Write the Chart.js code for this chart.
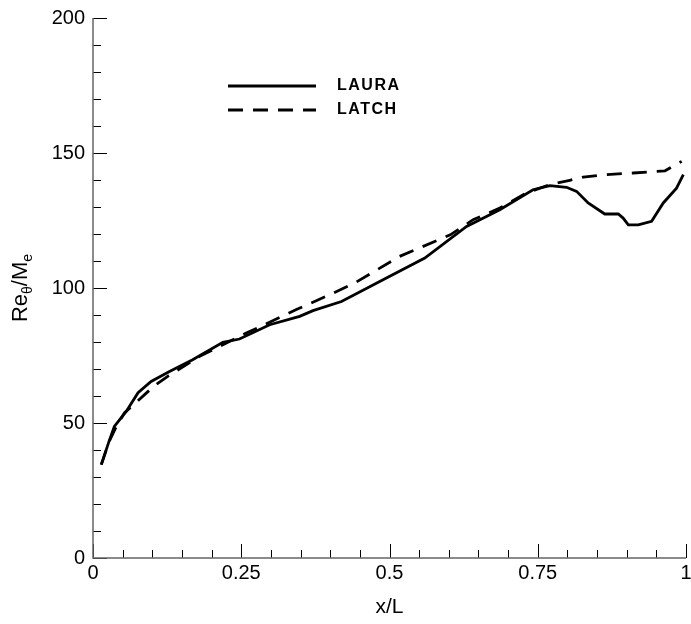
<!DOCTYPE html>
<html>
<head>
<meta charset="utf-8">
<script src="https://cdn.jsdelivr.net/npm/chart.js@4"></script>
<style>
  body { margin: 0; background: #fff; }
  #wrap { width: 691px; height: 624px; }
</style>
</head>
<body>
<div id="wrap"><canvas id="chart"></canvas></div>
<script>
// values
const lauraX = [0.014, 0.027, 0.036, 0.056, 0.076, 0.098, 0.129, 0.168, 0.219, 0.247, 0.298, 0.3485, 0.371, 0.419, 0.4835, 0.5595, 0.63, 0.686, 0.742, 0.7705, 0.7986, 0.8155, 0.835, 0.863, 0.8858, 0.894, 0.9027, 0.9195, 0.942, 0.9617, 0.984, 0.9955];
const lauraY = [34.6, 43.2, 48.7, 54.3, 61.2, 65.4, 69.1, 73.4, 79.9, 81.1, 86.4, 89.5, 91.6, 95.0, 102.4, 111.1, 122.8, 129, 136.4, 137.9, 137.3, 135.8, 131.5, 127.4, 127.4, 125.9, 123.4, 123.4, 124.7, 131.5, 137, 142];
const latchX = [0.014, 0.027, 0.04, 0.053, 0.087, 0.1038, 0.126, 0.18, 0.2586, 0.343, 0.399, 0.441, 0.517, 0.6025, 0.641, 0.686, 0.731, 0.7705, 0.804, 0.8267, 0.866, 0.911, 0.9646, 0.9927];
const latchY = [34.6, 43, 49, 53.7, 60.5, 63.8, 67.3, 74.7, 83.3, 92, 97.5, 101.8, 111.7, 119.7, 125.3, 129.6, 135.2, 138.3, 139.9, 141.1, 142, 142.6, 143.4, 146.9];
const seriesNames = ['LAURA', 'LATCH'];
const xTicks = [0, 0.25, 0.5, 0.75, 1];
const xTickLabels = ['0', '0.25', '0.5', '0.75', '1'];
const yTicks = [0, 50, 100, 150, 200];

const FONT = "'Liberation Sans', Arial, sans-serif";

function pts(xs, ys) {
  return xs.map((x, i) => ({x: x, y: ys[i]}));
}

// axis lines + inward ticks (major and minor)
const axisPlugin = {
  id: 'axisTicks',
  afterDatasetsDraw(chart) {
    const ctx = chart.ctx;
    const a = chart.chartArea;
    const xs = chart.scales.x, ys = chart.scales.y;
    ctx.save();
    ctx.strokeStyle = '#000';
    ctx.lineWidth = 1;
    for (let i = 0; i <= 20; i++) {
      const v = i * 0.05;
      const px = Math.round(xs.getPixelForValue(v)) + 0.5;
      const len = i % 5 === 0 ? 14 : 8;
      ctx.beginPath();
      ctx.moveTo(px, a.bottom);
      ctx.lineTo(px, a.bottom - len);
      ctx.stroke();
    }
    for (let i = 0; i <= 20; i++) {
      const v = i * 10;
      const py = Math.round(ys.getPixelForValue(v)) + 0.5;
      const len = i % 5 === 0 ? 14 : 8;
      ctx.beginPath();
      ctx.moveTo(a.left, py);
      ctx.lineTo(a.left + len, py);
      ctx.stroke();
    }
    ctx.strokeStyle = '#666';
    ctx.lineWidth = 1.5;
    ctx.beginPath();
    ctx.moveTo(a.left, a.top);
    ctx.lineTo(a.left, a.bottom);
    ctx.lineTo(a.right, a.bottom);
    ctx.stroke();
    ctx.restore();
  },
  afterDraw(chart) {
    const ctx = chart.ctx;
    const a = chart.chartArea;
    ctx.save();
    ctx.fillStyle = '#000';
    // x title
    ctx.font = '21px ' + FONT;
    ctx.textAlign = 'center';
    ctx.textBaseline = 'alphabetic';
    ctx.fillText('x/L', (a.left + a.right) / 2, 613);

    // y title with subscripts, rotated
    const parts = [['Re', 22, 0], ['\u03b8', 14, 5], ['/M', 22, 0], ['e', 14, 5]];
    let total = 0;
    parts.forEach(p => { ctx.font = p[1] + 'px ' + FONT; total += ctx.measureText(p[0]).width; });
    ctx.translate(27, (a.top + a.bottom) / 2);
    ctx.rotate(-Math.PI / 2);
    ctx.textAlign = 'left';
    let cx = -total / 2;
    parts.forEach(p => {
      ctx.font = p[1] + 'px ' + FONT;
      ctx.fillText(p[0], cx, p[2]);
      cx += ctx.measureText(p[0]).width;
    });
    ctx.restore();

    // legend
    ctx.save();
    chart.data.datasets.forEach((ds, i) => {
      const y = 86 + i * 24;
      ctx.strokeStyle = '#000';
      ctx.lineWidth = ds.borderWidth;
      ctx.setLineDash(ds.borderDash || []);
      ctx.beginPath();
      ctx.moveTo(228, y);
      ctx.lineTo(316, y);
      ctx.stroke();
      ctx.setLineDash([]);
      ctx.fillStyle = '#000';
      ctx.font = 'bold 16px ' + FONT;
      ctx.letterSpacing = '1.5px';
      ctx.textBaseline = 'middle';
      ctx.textAlign = 'left';
      ctx.fillText(ds.label, 337, y);
    });
    ctx.restore();
  }
};

new Chart(document.getElementById('chart').getContext('2d'), {
  type: 'line',
  data: {
    datasets: [
      {
        label: seriesNames[0],
        data: pts(lauraX, lauraY),
        borderColor: '#000',
        borderWidth: 2.8,
        pointRadius: 0,
        tension: 0,
        fill: false
      },
      {
        label: seriesNames[1],
        data: pts(latchX, latchY),
        borderColor: '#000',
        borderWidth: 2.8,
        borderDash: [15, 10],
        pointRadius: 0,
        tension: 0,
        fill: false
      }
    ]
  },
  options: {
    responsive: true,
    maintainAspectRatio: false,
    animation: false,
    layout: { padding: { top: 18, right: 0, left: 0, bottom: 0 } },
    plugins: { legend: { display: false }, tooltip: { enabled: false } },
    scales: {
      x: {
        type: 'linear',
        min: 0,
        max: 1,
        grid: { display: false, drawTicks: false, tickLength: 0 },
        border: { display: false },
        afterBuildTicks: s => { s.ticks = xTicks.map(v => ({value: v})); },
        ticks: {
          color: '#000', font: { family: FONT, size: 20 }, padding: 3, maxRotation: 0,
          callback: (v) => xTickLabels[xTicks.indexOf(v)]
        },
        afterFit: s => { s.height = 66; s.paddingRight = 5; s.paddingLeft = 0; }
      },
      y: {
        min: 0,
        max: 200,
        grid: { display: false, drawTicks: false, tickLength: 0 },
        border: { display: false },
        afterBuildTicks: s => { s.ticks = yTicks.map(v => ({value: v})); },
        ticks: { color: '#000', font: { family: FONT, size: 20 }, padding: 8 },
        afterFit: s => { s.width = 93; s.paddingTop = 0; s.paddingBottom = 0; }
      }
    }
  },
  plugins: [axisPlugin]
});
</script>
</body>
</html>
